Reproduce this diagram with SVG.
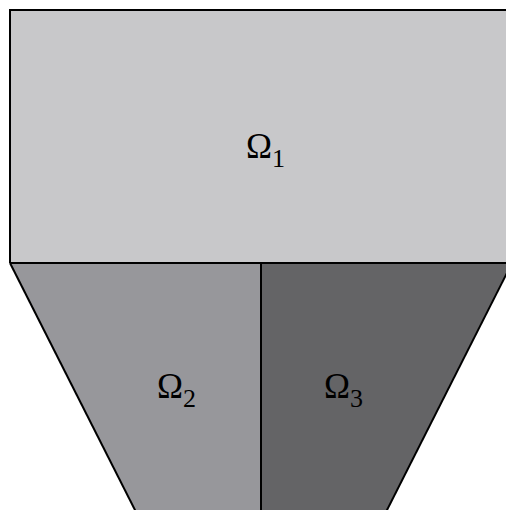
<svg xmlns="http://www.w3.org/2000/svg" width="506" height="510" viewBox="0 0 506 510">
<style>
.edge{stroke:#000;stroke-width:2;fill:none}
.lbl{font-family:"Liberation Serif","Times New Roman",serif;font-size:35px;fill:#000}
.sub{font-size:26px}
</style>
<rect x="0" y="0" width="506" height="510" fill="#fff"/>
<g id="omega1">
<rect x="10" y="10" width="504" height="253" fill="#c8c8ca"/>
<text class="lbl" x="246" y="158">Ω<tspan class="sub" dy="9">1</tspan></text>
</g>
<g id="omega2">
<polygon points="10,263 261,263 261,512 136,512" fill="#97979b"/>
<text class="lbl" x="157" y="398">Ω<tspan class="sub" dy="9">2</tspan></text>
</g>
<g id="omega3">
<polygon points="261,263 512,263 386,512 261,512" fill="#646466"/>
<text class="lbl" x="324" y="398">Ω<tspan class="sub" dy="9">3</tspan></text>
</g>
<g id="connectors">
<path class="edge" d="M10,263 V10 H520"/>
<path class="edge" d="M10,263 H520"/>
<path class="edge" d="M261,263 V520"/>
<path class="edge" d="M10,263 L136,512"/>
<path class="edge" d="M512,263 L386,512"/>
</g>
</svg>
